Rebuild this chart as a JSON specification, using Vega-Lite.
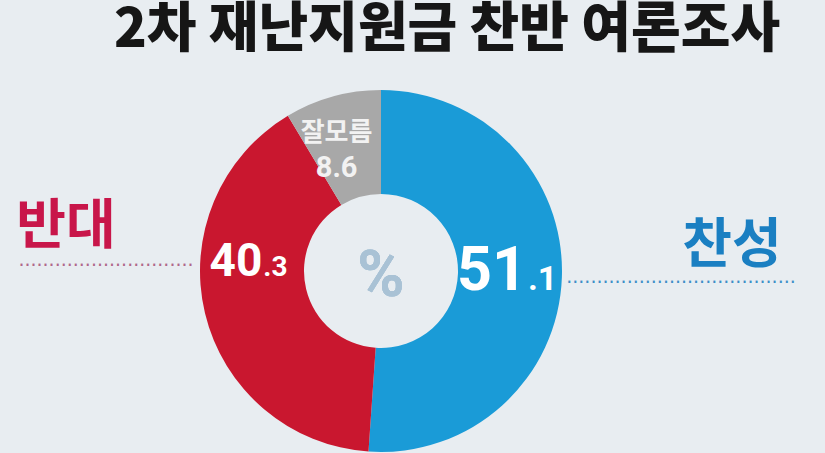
{
  "$schema": "https://vega.github.io/schema/vega-lite/v6.json",
  "width": 762,
  "height": 364,
  "autosize": {"type": "none"},
  "padding": {"left": 0, "top": 89, "right": 63, "bottom": 0},
  "background": "#e8edf1",
  "config": {"view": {"stroke": null}},
  "title": {
    "text": "2차 재난지원금 찬반 여론조사",
    "anchor": "middle",
    "frame": "group",
    "dx": 66,
    "offset": -12,
    "baseline": "alphabetic",
    "fontSize": 54,
    "font": "Noto Sans CJK KR",
    "fontWeight": 900,
    "color": "#161616"
  },
  "data": {
    "values": [
      {"label": "찬성", "value": 51.1, "whole": "51", "frac": ".1"},
      {"label": "반대", "value": 40.3, "whole": "40", "frac": ".3"},
      {"label": "잘모름", "value": 8.6, "whole": "8.6", "frac": ""}
    ]
  },
  "encoding": {
    "theta": {"field": "value", "type": "quantitative", "stack": true, "scale": {"domain": [0, 100]}},
    "order": {"field": "value", "sort": "descending"}
  },
  "layer": [
    {
      "mark": {"type": "arc", "outerRadius": 181, "innerRadius": 77},
      "encoding": {
        "color": {
          "field": "label",
          "type": "nominal",
          "scale": {"domain": ["찬성", "반대", "잘모름"], "range": ["#1a9bd7", "#c9172f", "#a8a8a8"]},
          "legend": null
        }
      }
    },
    {
      "mark": {"type": "text", "radius": 141, "dx": 5, "dy": 14, "align": "right", "baseline": "alphabetic", "font": "Roboto", "fontWeight": "bold", "fontSize": 61, "color": "#ffffff"},
      "encoding": {"text": {"condition": {"test": "datum.label === '찬성'", "field": "whole"}, "value": ""}}
    },
    {
      "mark": {"type": "text", "radius": 141, "dy": 14, "dx": 6, "align": "left", "baseline": "alphabetic", "font": "Roboto", "fontWeight": "bold", "fontSize": 34, "color": "#ffffff"},
      "encoding": {"text": {"condition": {"test": "datum.label === '찬성'", "field": "frac"}, "value": ""}}
    },
    {
      "mark": {"type": "text", "radius": 122, "dy": -23, "align": "right", "baseline": "alphabetic", "font": "Roboto", "fontWeight": "bold", "fontSize": 46, "color": "#ffffff"},
      "encoding": {"text": {"condition": {"test": "datum.label === '반대'", "field": "whole"}, "value": ""}}
    },
    {
      "mark": {"type": "text", "radius": 122, "dy": -23, "dx": 1, "align": "left", "baseline": "alphabetic", "font": "Roboto", "fontWeight": "bold", "fontSize": 28, "color": "#ffffff"},
      "encoding": {"text": {"condition": {"test": "datum.label === '반대'", "field": "frac"}, "value": ""}}
    },
    {
      "mark": {"type": "text", "radius": 144, "dx": -6, "dy": 1, "align": "center", "baseline": "middle", "font": "Noto Sans CJK KR", "fontWeight": "bold", "fontSize": 26, "color": "#f2f2f2"},
      "encoding": {"text": {"condition": {"test": "datum.label === '잘모름'", "field": "label"}, "value": ""}}
    },
    {
      "mark": {"type": "text", "radius": 110, "dx": -15, "dy": 3, "align": "center", "baseline": "middle", "font": "Roboto", "fontWeight": "bold", "fontSize": 29, "color": "#f2f2f2"},
      "encoding": {"text": {"condition": {"test": "datum.label === '잘모름'", "field": "whole"}, "value": ""}}
    },
    {
      "transform": [{"filter": "datum.label === '찬성'"}],
      "layer": [
        {
          "mark": {"type": "text", "dx": 351, "dy": -24, "align": "center", "baseline": "middle", "font": "Noto Sans CJK KR", "fontWeight": "bold", "fontSize": 54, "color": "#1a7fc2"},
          "encoding": {"theta": null, "order": null, "text": {"field": "label"}}
        },
        {
          "mark": {"type": "text", "dx": 300, "dy": 12, "align": "center", "baseline": "middle", "font": "DejaVu Sans", "fontSize": 19, "color": "#3d8fc8", "text": "······································"},
          "encoding": {"theta": null, "order": null}
        }
      ]
    },
    {
      "transform": [{"filter": "datum.label === '반대'"}],
      "layer": [
        {
          "mark": {"type": "text", "dx": -315, "dy": -43, "align": "center", "baseline": "middle", "font": "Noto Sans CJK KR", "fontWeight": "bold", "fontSize": 54, "color": "#c8164a"},
          "encoding": {"theta": null, "order": null, "text": {"field": "label"}}
        },
        {
          "mark": {"type": "text", "dx": -275, "dy": -5, "align": "center", "baseline": "middle", "font": "DejaVu Sans", "fontSize": 19, "color": "#b0688a", "text": "·····························"},
          "encoding": {"theta": null, "order": null}
        }
      ]
    },
    {
      "mark": {"type": "text", "text": "%", "font": "Roboto", "fontWeight": "bold", "fontSize": 64, "color": "#a9c2d5", "align": "center", "baseline": "middle", "dy": 6},
      "encoding": {"theta": null, "order": null}
    }
  ]
}
